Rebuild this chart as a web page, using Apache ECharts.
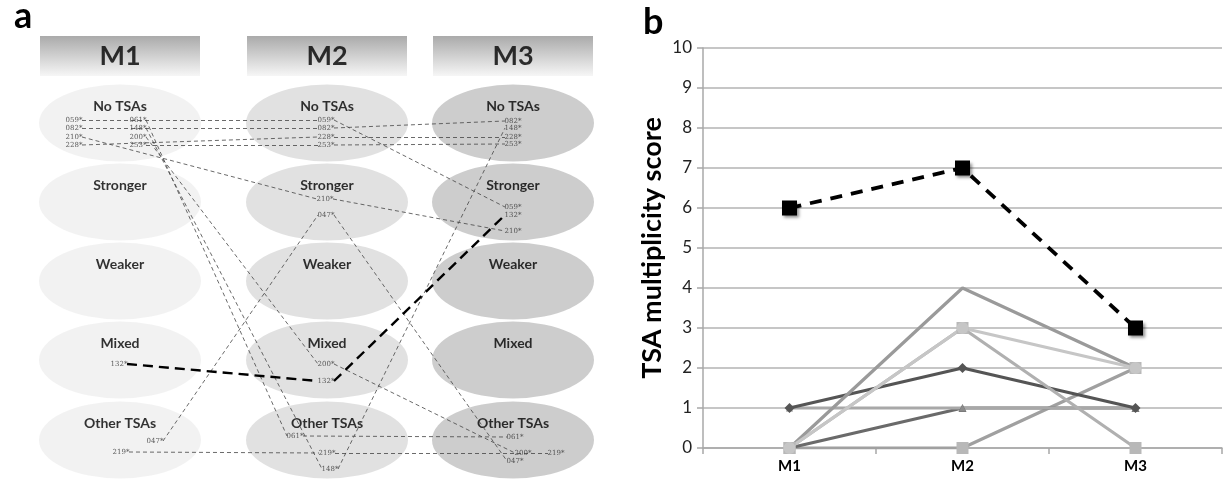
<!DOCTYPE html>
<html><head><meta charset="utf-8">
<script src="https://cdn.jsdelivr.net/npm/echarts@6/dist/echarts.min.js"></script>
<style>html,body{margin:0;padding:0;background:#fff}#c{width:1226px;height:481px}</style>
</head><body><div id="c"></div>
<script>
// ---------------- DATA ----------------
// panel a: state of each patient code at each time point
const timePoints = ['M1', 'M2', 'M3'];
const states = ['No TSAs', 'Stronger', 'Weaker', 'Mixed', 'Other TSAs'];
const codes  = ['059', '082', '210', '228', '061', '148', '200', '253', '132', '047', '219'];
const codeStateM1 = ['No TSAs','No TSAs','No TSAs','No TSAs','No TSAs','No TSAs','No TSAs','No TSAs','Mixed','Other TSAs','Other TSAs'];
const codeStateM2 = ['No TSAs','No TSAs','Stronger','No TSAs','Other TSAs','Other TSAs','Mixed','No TSAs','Mixed','Stronger','Other TSAs'];
const codeStateM3 = ['Stronger','No TSAs','Stronger','No TSAs','Other TSAs','No TSAs','Other TSAs','No TSAs','Stronger','Other TSAs','Other TSAs'];
const highlightCode = '132';

// panel b: TSA multiplicity score
const scoreCategories = ['M1', 'M2', 'M3'];
const scoreTicks = [0, 1, 2, 3, 4, 5, 6, 7, 8, 9, 10];
const score132 = [6, 7, 3];
const scoreP1 = [0, 4, 2];
const scoreP2 = [0, 3, 2];
const scoreP3 = [0, 3, 0];
const scoreP4 = [1, 2, 1];
const scoreP5 = [0, 1, 1];
const scoreP6 = [1, 1, 1];
const scoreP7 = [0, 0, 2];

// ---------------- LAYOUT (positions / styles only) ----------------
const colX = [120, 327, 513];
const rowY = [123, 202, 281, 360, 440];
const ellipseColors = ['#efefef', '#d9d9d9', '#c0c0c0'];
// label offset of each code inside its ellipse, per time point
const labelOffsets = {
  '059': [[-46,-3],[-1,-3],[0,5]],
  '082': [[-46,5],[-1,5],[0,-2]],
  '210': [[-46,14],[-2,-3],[0,29]],
  '228': [[-46,22],[-1,14],[0,14]],
  '061': [[18,-3],[-32,-4],[2,-3]],
  '148': [[18,5],[3,29],[0,5]],
  '200': [[18,14],[-1,4],[10,13]],
  '253': [[18,22],[-1,22],[0,21]],
  '132': [[-1,4],[-1,21],[0,13]],
  '047': [[35,1],[-1,13],[2,21]],
  '219': [[1,12],[0,13],[43,13]]
};

// ---------------- BUILD ----------------
const FONT = 'Lato';
const stateByTime = [codeStateM1, codeStateM2, codeStateM3];
function codePos(ci, t) {
  const code = codes[ci];
  const s = states.indexOf(stateByTime[t][ci]);
  const off = labelOffsets[code][t];
  return [colX[t] + off[0], rowY[s] + off[1]];
}

const ellipseData = [];
timePoints.forEach((tp, t) => {
  states.forEach((st, s) => {
    ellipseData.push({ value: [colX[t], rowY[s]], name: st, itemStyle: { color: ellipseColors[t] } });
  });
});
const headerData = timePoints.map((tp, t) => ({ value: [colX[t], 56], name: tp }));

const codeLabelData = [];
const thinSegs = [], thickSegs = [];
codes.forEach((code, ci) => {
  for (let t = 0; t < 3; t++) {
    const p = codePos(ci, t);
    codeLabelData.push({ value: p, name: code + '*' });
    if (t < 2) {
      const q = codePos(ci, t + 1);
      const seg = { coords: [[p[0] + 8, p[1]], [q[0] - 8, q[1]]] };
      (code === highlightCode ? thickSegs : thinSegs).push(seg);
    }
  }
});

const chart = echarts.init(document.getElementById('c'));
chart.setOption({
  animation: false,
  backgroundColor: '#fff',
  title: [
    { text: 'a', left: 9, top: -7, textStyle: { fontSize: 36, fontWeight: 'bold', fontFamily: FONT, color: '#000' } },
    { text: 'b', left: 638, top: -1, textStyle: { fontSize: 36, fontWeight: 'bold', fontFamily: FONT, color: '#000' } }
  ],
  grid: [
    { left: 0, top: 0, width: 620, height: 481 },
    { left: 703, top: 48, width: 519, height: 400 }
  ],
  xAxis: [
    { gridIndex: 0, type: 'value', min: 0, max: 620, show: false },
    { gridIndex: 1, type: 'category', data: scoreCategories, boundaryGap: true,
      axisLine: { lineStyle: { color: '#a8a8a8', width: 1.5 } },
      axisTick: { show: true, length: 6, lineStyle: { color: '#a8a8a8', width: 1.5 } },
      axisLabel: { margin: 11, fontSize: 15, fontWeight: 'bold', fontFamily: FONT, color: '#000' },
      splitLine: { show: false } }
  ],
  yAxis: [
    { gridIndex: 0, type: 'value', min: 0, max: 481, inverse: true, show: false },
    { gridIndex: 1, type: 'value', min: scoreTicks[0], max: scoreTicks[scoreTicks.length - 1], interval: 1,
      name: 'TSA multiplicity score', nameLocation: 'middle', nameGap: 37, nameRotate: 90,
      nameTextStyle: { fontSize: 27, fontWeight: 'bold', fontFamily: FONT, color: '#000' },
      axisLine: { show: true, lineStyle: { color: '#a8a8a8', width: 1.5 } },
      axisTick: { show: true, length: 6, lineStyle: { color: '#a8a8a8', width: 1.5 } },
      axisLabel: { margin: 11, fontSize: 17, fontFamily: FONT, color: '#222' },
      splitLine: { show: true, lineStyle: { color: '#b3b3b3', width: 1.5 } } }
  ],
  series: [
    // ---- panel a ----
    { type: 'scatter', xAxisIndex: 0, yAxisIndex: 0, z: 1, silent: true,
      symbol: 'rect', symbolSize: [160, 40],
      itemStyle: { color: new echarts.graphic.LinearGradient(0, 0, 0, 1, [
        { offset: 0, color: '#959595' }, { offset: 1, color: '#f4f4f4' }]) },
      label: { show: true, position: 'inside', formatter: '{b}', fontSize: 27, fontWeight: 'bold', fontFamily: FONT, color: '#000' },
      data: headerData },
    { type: 'scatter', xAxisIndex: 0, yAxisIndex: 0, z: 1, silent: true,
      symbol: 'path://M0,50A50,50,0,1,1,100,50A50,50,0,1,1,0,50Z', symbolSize: [162, 77],
      label: { show: true, position: 'inside', offset: [0, -17], formatter: '{b}', fontSize: 14, fontWeight: 'bold', fontFamily: FONT, color: '#000' },
      data: ellipseData },
    { type: 'lines', coordinateSystem: 'cartesian2d', xAxisIndex: 0, yAxisIndex: 0, z: 2, silent: true,
      lineStyle: { color: '#444', width: 0.8, type: [4, 3], opacity: 1 },
      data: thinSegs },
    { type: 'lines', coordinateSystem: 'cartesian2d', xAxisIndex: 0, yAxisIndex: 0, z: 3, silent: true,
      lineStyle: { color: '#000', width: 2.4, type: [10, 6], opacity: 1 },
      data: thickSegs },
    { type: 'scatter', xAxisIndex: 0, yAxisIndex: 0, z: 4, silent: true,
      symbolSize: 1, itemStyle: { color: 'rgba(0,0,0,0)' },
      label: { show: true, position: 'inside', formatter: '{b}', fontSize: 7, fontFamily: 'DejaVu Serif', color: '#333' },
      data: codeLabelData },
    // ---- panel b ----
    { type: 'line', xAxisIndex: 1, yAxisIndex: 1, data: scoreP7, symbol: 'rect', symbolSize: 12,
      lineStyle: { color: '#a0a0a0', width: 3.2 }, itemStyle: { color: '#b8b8b8' } },
    { type: 'line', xAxisIndex: 1, yAxisIndex: 1, data: scoreP5, symbol: 'triangle', symbolSize: 8,
      lineStyle: { color: '#6a6a6a', width: 3.2 }, itemStyle: { color: '#6a6a6a' } },
    { type: 'line', xAxisIndex: 1, yAxisIndex: 1, data: scoreP6, symbol: 'triangle', symbolSize: 7,
      lineStyle: { color: '#a8a8a8', width: 3.2 }, itemStyle: { color: '#8a8a8a' } },
    { type: 'line', xAxisIndex: 1, yAxisIndex: 1, data: scoreP4, symbol: 'diamond', symbolSize: 10,
      lineStyle: { color: '#555', width: 3.2 }, itemStyle: { color: '#555' } },
    { type: 'line', xAxisIndex: 1, yAxisIndex: 1, data: scoreP3, symbol: 'rect', symbolSize: 12,
      lineStyle: { color: '#b0b0b0', width: 3.2 }, itemStyle: { color: '#b8b8b8' } },
    { type: 'line', xAxisIndex: 1, yAxisIndex: 1, data: scoreP1, symbol: 'none',
      lineStyle: { color: '#9a9a9a', width: 3.2 }, itemStyle: { color: '#9a9a9a' } },
    { type: 'line', xAxisIndex: 1, yAxisIndex: 1, data: scoreP2, symbol: 'circle', symbolSize: 12,
      lineStyle: { color: '#c6c6c6', width: 3.2 }, itemStyle: { color: '#c6c6c6' } },
    { type: 'line', xAxisIndex: 1, yAxisIndex: 1, data: score132, symbol: 'rect', symbolSize: 15, z: 5,
      lineStyle: { color: '#000', width: 3.8, type: [12, 9] },
      itemStyle: { color: '#000', shadowBlur: 3, shadowColor: 'rgba(0,0,0,0.45)', shadowOffsetX: 2, shadowOffsetY: 2 } }
  ]
});
</script></body></html>
